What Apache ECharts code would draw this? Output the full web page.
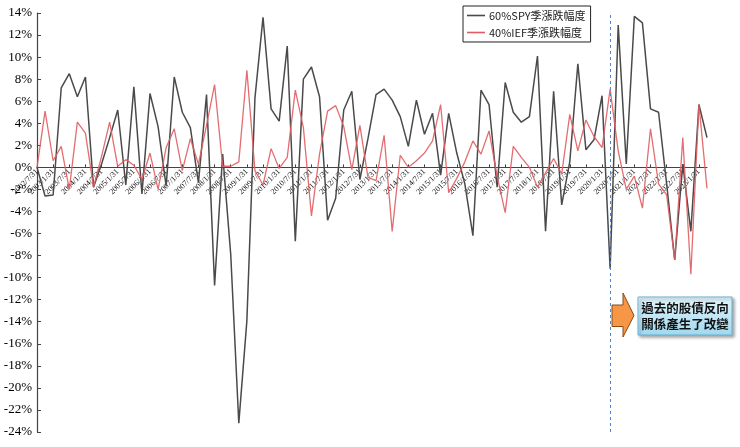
<!DOCTYPE html>
<html>
<head>
<meta charset="utf-8">
<script src="https://cdn.jsdelivr.net/npm/echarts@6/dist/echarts.min.js"></script>
<style>
html,body{margin:0;padding:0;background:#fff;}
#chart{width:740px;height:447px;}
</style>
</head>
<body>
<div id="chart"></div>
<script>
var categories = [
'2002/7/31','2002/10/31',
'2003/1/31','2003/4/30','2003/7/31','2003/10/31',
'2004/1/31','2004/4/30','2004/7/31','2004/10/31',
'2005/1/31','2005/4/30','2005/7/31','2005/10/31',
'2006/1/31','2006/4/30','2006/7/31','2006/10/31',
'2007/1/31','2007/4/30','2007/7/31','2007/10/31',
'2008/1/31','2008/4/30','2008/7/31','2008/10/31',
'2009/1/31','2009/4/30','2009/7/31','2009/10/31',
'2010/1/31','2010/4/30','2010/7/31','2010/10/31',
'2011/1/31','2011/4/30','2011/7/31','2011/10/31',
'2012/1/31','2012/4/30','2012/7/31','2012/10/31',
'2013/1/31','2013/4/30','2013/7/31','2013/10/31',
'2014/1/31','2014/4/30','2014/7/31','2014/10/31',
'2015/1/31','2015/4/30','2015/7/31','2015/10/31',
'2016/1/31','2016/4/30','2016/7/31','2016/10/31',
'2017/1/31','2017/4/30','2017/7/31','2017/10/31',
'2018/1/31','2018/4/30','2018/7/31','2018/10/31',
'2019/1/31','2019/4/30','2019/7/31','2019/10/31',
'2020/1/31','2020/4/30','2020/7/31','2020/10/31',
'2021/1/31','2021/4/30','2021/7/31','2021/10/31',
'2022/1/31','2022/4/30','2022/7/31','2022/10/31',
'2023/1/31','2023/4/30'
];

var spyName = '60%SPY季漲跌幅度';
var iefName = '40%IEF季漲跌幅度';

var spyValues = [
0,-2.6,-2.5,7.2,8.5,6.4,8.2,-1.8,0.3,2.7,
5.2,-1.6,7.3,-2.4,6.7,3.7,-1.7,8.2,5.0,3.6,
-1.4,6.6,-10.7,1.2,-7.9,-23.2,-13.9,6.3,13.6,5.3,
4.2,11.0,-6.7,8.0,9.1,6.4,-4.8,-2.8,5.2,6.9,
-1.1,2.6,6.6,7.1,6.1,4.6,1.9,6.1,3.0,4.9,
-0.7,4.9,1.3,-1.5,-6.2,7.0,5.7,-1.8,7.7,5.0,
4.1,4.6,10.1,-5.8,6.9,-3.4,0.5,9.4,1.6,2.5,
6.5,-9.2,12.9,0.3,13.7,13.1,5.3,5.0,-1.5,-8.4,
0.3,-5.8,5.7,2.7
];

var iefValues = [
0,5.1,0.6,1.9,-2.0,4.1,3.1,-1.8,1.0,4.1,
0.1,0.7,0.2,-1.1,1.3,-2.0,1.8,3.5,-0.3,2.6,
0.3,3.8,7.5,0.1,0.1,0.5,8.8,-0.3,-1.6,1.7,
-0.1,0.9,7.0,3.6,-4.4,1.2,5.1,5.6,3.7,-0.2,
3.8,-0.9,-1.2,2.9,-5.8,1.1,0.0,0.6,1.3,2.4,
5.7,-2.3,-1.0,0.5,2.4,1.2,3.3,-0.8,-4.1,1.9,
0.9,0.0,-1.8,-0.5,0.8,-0.6,4.8,1.5,4.3,2.8,
1.8,7.1,1.5,-2.0,-0.8,-3.7,3.5,-1.5,-2.5,-8.4,
2.7,-9.7,5.7,-1.9
];

var yMin = -24, yMax = 14, yStep = 2;
var markerDate = '2020/4/30';
var noteLines = ['過去的股債反向', '關係產生了改變'];

var gridTop = 13, gridBottom = 15, chartH = 447;
var plotH = chartH - gridTop - gridBottom;
// distance from bottom of grid up to the zero line
var zeroOffset = plotH * (0 - yMin) / (yMax - yMin);

var chart = echarts.init(document.getElementById('chart'), null, {renderer: 'canvas'});
var option = {
  backgroundColor: '#ffffff',
  animation: false,
  grid: {left: 37, right: 33, top: gridTop, bottom: gridBottom, containLabel: false},
  legend: {
    left: 463, top: 6, orient: 'vertical',
    borderColor: '#222', borderWidth: 1,
    padding: [4, 5, 4, 4], itemGap: 6,
    itemWidth: 18, itemHeight: 1.6, icon: 'rect',
    textStyle: {fontSize: 11, color: '#222', fontFamily: 'Noto Sans CJK TC', padding: [0, 0, 0, -1]},
    data: [spyName, iefName]
  },
  xAxis: {
    type: 'category',
    data: categories,
    boundaryGap: false,
    offset: -zeroOffset,
    axisLine: {onZero: false, lineStyle: {color: '#444', width: 1.2}},
    axisTick: {show: true, interval: 1, inside: true, length: 3, lineStyle: {color: '#444'}},
    axisLabel: {
      interval: 1, rotate: 45, margin: 3,
      fontSize: 8, color: '#111', fontFamily: 'Liberation Serif'
    },
    splitLine: {show: false}
  },
  yAxis: {
    type: 'value',
    min: yMin, max: yMax, interval: yStep,
    axisLine: {show: true, lineStyle: {color: '#444', width: 1.2}},
    axisTick: {show: true, inside: true, length: 4, lineStyle: {color: '#444'}},
    axisLabel: {formatter: '{value}%', fontSize: 13, color: '#000', fontFamily: 'Liberation Serif', margin: 5},
    splitLine: {show: false}
  },
  series: [
    {
      name: spyName, type: 'line', data: spyValues,
      symbol: 'none', smooth: false,
      lineStyle: {color: '#4a4a4a', width: 1.5},
      itemStyle: {color: '#4a4a4a'},
      markLine: {
        silent: true, symbol: 'none',
        label: {show: false},
        lineStyle: {type: [3, 3], color: '#4f86c6', width: 1},
        data: [{xAxis: markerDate}]
      },
      z: 2
    },
    {
      name: iefName, type: 'line', data: iefValues,
      symbol: 'none', smooth: false,
      lineStyle: {color: '#e05d62', width: 1.3, opacity: 0.9},
      itemStyle: {color: '#e05d62'},
      z: 3
    }
  ],
  graphic: [
    {
      type: 'polygon',
      shape: {points: [[612,305],[623,305],[623,293],[634,315.5],[623,337],[623,326.5],[612,326.5]]},
      style: {fill: '#f79646', stroke: '#8a4a16', lineWidth: 1},
      z: 10
    },
    {
      type: 'rect',
      shape: {x: 638, y: 297, width: 94, height: 38},
      style: {
        fill: new echarts.graphic.LinearGradient(0, 0, 0, 1, [
          {offset: 0, color: '#e3f5fc'}, {offset: 1, color: '#9fd8ef'}
        ]),
        stroke: '#6cb2d3', lineWidth: 1,
        shadowBlur: 3, shadowOffsetX: 2, shadowOffsetY: 2, shadowColor: 'rgba(0,0,0,0.35)'
      },
      z: 10
    },
    {
      type: 'text',
      x: 685, y: 316,
      style: {
        text: noteLines.join('\n'),
        fill: '#111', fontSize: 12.5, fontWeight: 'bold',
        fontFamily: 'Noto Sans CJK TC', lineHeight: 16,
        align: 'center', verticalAlign: 'middle'
      },
      z: 11
    }
  ]
};
chart.setOption(option);
</script>
</body>
</html>
